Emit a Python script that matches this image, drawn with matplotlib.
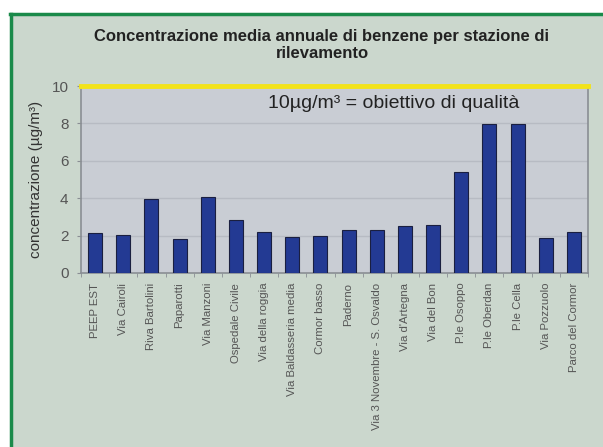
import matplotlib
matplotlib.use("Agg")
import matplotlib.pyplot as plt
from matplotlib.patches import Rectangle
from matplotlib.lines import Line2D
import numpy as np

stations = [
    "PEEP EST", "Via Cairoli", "Riva Bartolini", "Paparotti", "Via Manzoni",
    "Ospedale Civile", "Via della roggia", "Via Baldasseria media", "Cormor basso",
    "Paderno", "Via 3 Novembre - S. Osvaldo", "Via d'Artegna", "Via del Bon",
    "P.le Osoppo", "P.le Oberdan", "P.le Cella", "Via Pozzuolo", "Parco del Cormor",
]
benzene = [2.15, 2.03, 3.94, 1.82, 4.05, 2.83, 2.21, 1.94, 1.98,
           2.30, 2.30, 2.51, 2.58, 5.38, 7.95, 7.95, 1.85, 2.19]
yticks = [0, 2, 4, 6, 8, 10]
target = 10

fonts = ["Liberation Sans Narrow", "Liberation Sans", "DejaVu Sans"]
plt.rcParams["font.family"] = fonts

W, H = 603, 447
fig = plt.figure(figsize=(W / 100, H / 100), dpi=100)
fig.patch.set_facecolor("#cbd7cd")

# White margin outside the green frame (left and top)
fig.patches.append(Rectangle((0, 0), 10 / W, 1, transform=fig.transFigure,
                             facecolor="white", edgecolor="none", zorder=-10))
fig.patches.append(Rectangle((0, 1 - 13 / H), 1, 13 / H, transform=fig.transFigure,
                             facecolor="white", edgecolor="none", zorder=-10))
fig.lines.append(Line2D([11 / W, 11 / W], [0, 1 - 13.5 / H], transform=fig.transFigure,
                        color="#1a8a4a", lw=2.5, zorder=-5))
fig.lines.append(Line2D([10 / W, 1], [1 - 14 / H, 1 - 14 / H], transform=fig.transFigure,
                        color="#1a8a4a", lw=2.5, zorder=-5))

left, right, top, bottom = 81, 588, 86, 273
ax = fig.add_axes([left / W, 1 - bottom / H, (right - left) / W, (bottom - top) / H])
ax.set_facecolor("#c9cdd4")

x = np.arange(len(stations))
ax.bar(x, benzene, width=0.5, color="#233a93", edgecolor="#1a1f40", linewidth=0.8, zorder=3)
ax.set_xlim(-0.5, len(stations) - 0.5)
ax.set_ylim(0, 10)

ax.set_yticks(yticks)
ax.set_yticklabels([str(v) for v in yticks], fontsize=11, color="#555555")
for v in yticks[1:-1]:
    ax.axhline(v, color="#b7bbc3", lw=1.0, zorder=1)
ax.axhline(target, color="#f2e31a", lw=3.5, zorder=4, clip_on=False)

ax.set_xticks(x)
ax.set_xticklabels(stations, rotation=90, fontsize=8.2, color="#555555")
ax.set_xticks(np.arange(-0.5, len(stations)), minor=True)
ax.tick_params(axis="x", which="major", length=0, pad=7)
ax.tick_params(axis="x", which="minor", length=3, color="#8a8e94", direction="out")
ax.tick_params(axis="y", length=3, color="#8a8e94", pad=6)

for side in ["left", "bottom", "right"]:
    ax.spines[side].set_color("#8a8e94")
    ax.spines[side].set_linewidth(1.2)
ax.spines["top"].set_visible(False)

ax.set_ylabel("concentrazione (µg/m³)", fontsize=11, color="#333333", labelpad=6)

ax.text((268 - left) / (right - left), 0.905, "10µg/m³ = obiettivo di qualità",
        transform=ax.transAxes, fontsize=14, color="#222222", va="center", ha="left")

fig.text(322 / W, 1 - 37 / H, "Concentrazione media annuale di benzene per stazione di",
         ha="center", va="center", fontsize=12, fontweight="bold", color="#222222")
fig.text(322 / W, 1 - 53 / H, "rilevamento",
         ha="center", va="center", fontsize=12, fontweight="bold", color="#222222")

fig.savefig("out.png", dpi=100)
